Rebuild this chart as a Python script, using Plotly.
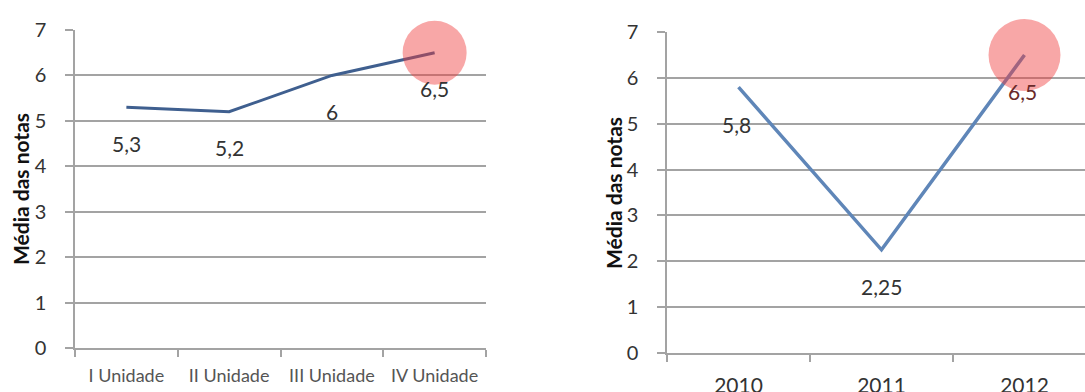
import plotly.graph_objects as go

# ---- data ----
units = ["I Unidade", "II Unidade", "III Unidade", "IV Unidade"]
unit_means = [5.3, 5.2, 6.0, 6.5]
years = ["2010", "2011", "2012"]
year_means = [5.8, 2.25, 6.5]
y_title = "Média das notas"

W, H = 1085, 392
FONT = "Lato"
GRID = "#a3a3a3"
TXT = "#333333"
CIRCLE = "rgba(240,60,60,0.45)"

def fmt(v):
    return f"{v:g}".replace(".", ",")

fig = go.Figure()
fig.add_trace(go.Scatter(x=units, y=unit_means, mode="lines",
                         line=dict(color="#3f5f8f", width=3),
                         xaxis="x", yaxis="y", showlegend=False, hoverinfo="skip"))
fig.add_trace(go.Scatter(x=years, y=year_means, mode="lines",
                         line=dict(color="#5f86b8", width=3.5),
                         xaxis="x2", yaxis="y2", showlegend=False, hoverinfo="skip"))
# highlight circles on the last point of each series
fig.add_trace(go.Scatter(x=units[-1:], y=unit_means[-1:], mode="markers", cliponaxis=False,
                         marker=dict(size=64, color=CIRCLE, line=dict(width=0)),
                         xaxis="x", yaxis="y", showlegend=False, hoverinfo="skip"))
fig.add_trace(go.Scatter(x=years[-1:], y=year_means[-1:], mode="markers", cliponaxis=False,
                         marker=dict(size=72, color=CIRCLE, line=dict(width=0)),
                         xaxis="x2", yaxis="y2", showlegend=False, hoverinfo="skip"))

annos = []
for i, v in enumerate(unit_means):
    annos.append(dict(x=i, y=v, xref="x", yref="y", text=fmt(v), showarrow=False,
                      yshift=-36, font=dict(family=FONT, size=21, color=TXT)))
xs = [-2, 0, -2]
for i, v in enumerate(year_means):
    annos.append(dict(x=i, y=v, xref="x2", yref="y2", text=fmt(v), showarrow=False,
                      yshift=-37, xshift=xs[i],
                      font=dict(family=FONT, size=21, color="#6a2a2a" if i == 2 else TXT)))
# y titles
for xc, yc in [(20, 189), (613, 193)]:
    annos.append(dict(x=xc / W, y=1 - yc / H, xref="paper", yref="paper",
                      xanchor="center", yanchor="middle",
                      text="<b>" + y_title + "</b>", textangle=-90, showarrow=False,
                      font=dict(family=FONT, size=21, color="#111111")))

yax = dict(range=[0, 7.0], dtick=1, showgrid=True, gridcolor=GRID, gridwidth=1.5,
           showline=True, linecolor=GRID, linewidth=1.5, ticks="outside", ticklen=8,
           tickcolor=GRID, tickwidth=1.5, zeroline=False, automargin=False,
           tickfont=dict(family=FONT, size=20, color=TXT), ticklabelstandoff=15)

xax = dict(type="category", tickson="boundaries", ticks="outside", ticklen=7,
           tickcolor=GRID, tickwidth=1.5, showline=True, linecolor=GRID, linewidth=1.5,
           showgrid=False, zeroline=False, automargin=False)

fig.update_layout(
    width=W, height=H, margin=dict(l=0, r=0, t=0, b=0),
    paper_bgcolor="white", plot_bgcolor="white",
    xaxis=dict(xax, domain=[75 / W, 486 / W], range=[-0.5, 3.5], anchor="y",
               tickfont=dict(family=FONT, size=18, color="#555555"), ticklabelstandoff=11),
    yaxis=dict(yax, domain=[1 - 348 / H, 1 - 30 / H], anchor="x"),
    xaxis2=dict(xax, domain=[667 / W, 1.0], range=[-0.5, 2.5 - 11 / 143], anchor="y2",
                tickfont=dict(family=FONT, size=21, color=TXT), ticklabelstandoff=13),
    yaxis2=dict(yax, domain=[1 - 353 / H, 1 - 32 / H], anchor="x2"),
    annotations=annos,
)

fig.write_html("out.html")
